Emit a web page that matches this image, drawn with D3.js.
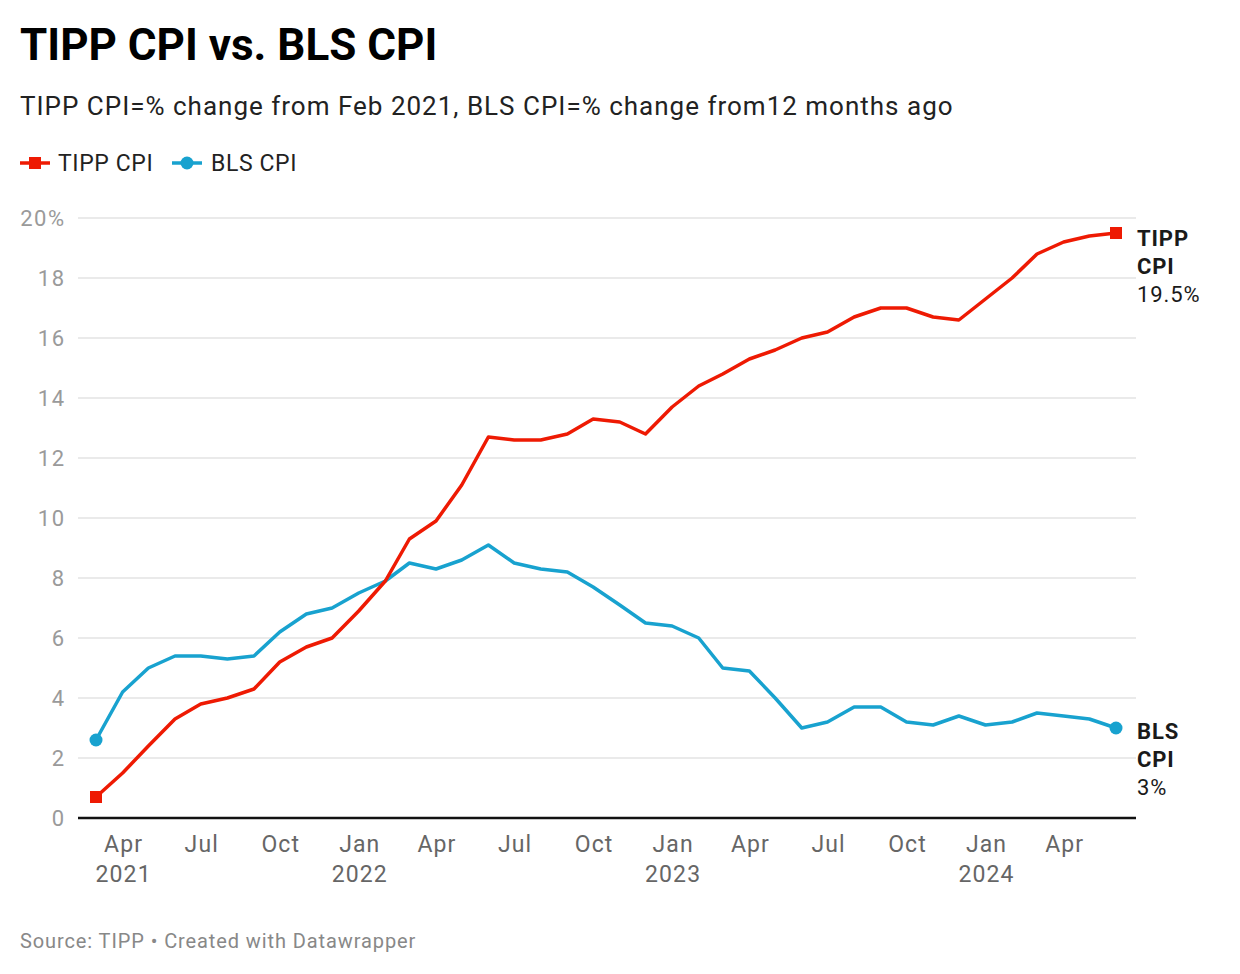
<!DOCTYPE html>
<html>
<head>
<meta charset="utf-8">
<script src="https://cdn.jsdelivr.net/npm/d3@7"></script>
<style>
  html, body { margin: 0; padding: 0; background: #fff; }
  svg { display: block; font-family: Roboto, "Noto Sans", sans-serif; }
</style>
</head>
<body>
<svg id="chart" width="1240" height="974"></svg>
<script>
// ---- data ----
const months = [
  "2021-03","2021-04","2021-05","2021-06","2021-07","2021-08","2021-09","2021-10","2021-11","2021-12",
  "2022-01","2022-02","2022-03","2022-04","2022-05","2022-06","2022-07","2022-08","2022-09","2022-10","2022-11","2022-12",
  "2023-01","2023-02","2023-03","2023-04","2023-05","2023-06","2023-07","2023-08","2023-09","2023-10","2023-11","2023-12",
  "2024-01","2024-02","2024-03","2024-04","2024-05","2024-06"
];
const tippCPI = [
  0.7, 1.5, 2.4, 3.3, 3.8, 4.0, 4.3, 5.2, 5.7, 6.0,
  6.9, 7.9, 9.3, 9.9, 11.1, 12.7, 12.6, 12.6, 12.8, 13.3, 13.2, 12.8,
  13.7, 14.4, 14.8, 15.3, 15.6, 16.0, 16.2, 16.7, 17.0, 17.0, 16.7, 16.6,
  17.3, 18.0, 18.8, 19.2, 19.4, 19.5
];
const blsCPI = [
  2.6, 4.2, 5.0, 5.4, 5.4, 5.3, 5.4, 6.2, 6.8, 7.0,
  7.5, 7.9, 8.5, 8.3, 8.6, 9.1, 8.5, 8.3, 8.2, 7.7, 7.1, 6.5,
  6.4, 6.0, 5.0, 4.9, 4.0, 3.0, 3.2, 3.7, 3.7, 3.2, 3.1, 3.4,
  3.1, 3.2, 3.5, 3.4, 3.3, 3.0
];
const yTicks = [0, 2, 4, 6, 8, 10, 12, 14, 16, 18, 20];
const xTickMonths = ["2021-04","2021-07","2021-10","2022-01","2022-04","2022-07","2022-10","2023-01","2023-04","2023-07","2023-10","2024-01","2024-04"];
const seriesNames = ["TIPP CPI", "BLS CPI"];
const endLabels = [["TIPP", "CPI", "19.5%"], ["BLS", "CPI", "3%"]];

// ---- setup ----
const RED = "#ee1a03", BLUE = "#18a2cf";
const parse = d3.timeParse("%Y-%m");
const dates = months.map(parse);
const svg = d3.select("#chart");

const x = d3.scaleTime().domain([dates[0], dates[dates.length - 1]]).range([96, 1116]);
const y = d3.scaleLinear().domain([0, 20]).range([818, 218]);
const gridLeft = 78, gridRight = 1136;

// title etc
svg.append("text").attr("x", 20).attr("y", 60)
  .attr("font-size", 44).attr("font-weight", 700).attr("fill", "#000")
  .text("TIPP CPI vs. BLS CPI");
svg.append("text").attr("x", 20).attr("y", 115)
  .attr("font-size", 26).attr("letter-spacing", 1).attr("fill", "#222")
  .text("TIPP CPI=% change from Feb 2021, BLS CPI=% change from12 months ago");

// legend
const leg = svg.append("g");
leg.append("line").attr("x1", 20).attr("x2", 50).attr("y1", 163).attr("y2", 163).attr("stroke", RED).attr("stroke-width", 3.5);
leg.append("rect").attr("x", 29).attr("y", 157).attr("width", 12).attr("height", 12).attr("fill", RED);
leg.append("text").attr("x", 58).attr("y", 171).attr("font-size", 23).attr("letter-spacing", 0.6).attr("fill", "#222").text(seriesNames[0]);
leg.append("line").attr("x1", 172).attr("x2", 202).attr("y1", 163).attr("y2", 163).attr("stroke", BLUE).attr("stroke-width", 3.5);
leg.append("circle").attr("cx", 187).attr("cy", 163).attr("r", 6.5).attr("fill", BLUE);
leg.append("text").attr("x", 211).attr("y", 171).attr("font-size", 23).attr("letter-spacing", 0.6).attr("fill", "#222").text(seriesNames[1]);

// gridlines
const grid = svg.append("g");
grid.selectAll("line").data(yTicks.filter(d => d !== 0)).join("line")
  .attr("x1", gridLeft).attr("x2", gridRight)
  .attr("y1", d => y(d)).attr("y2", d => y(d))
  .attr("stroke", "#e3e3e3").attr("stroke-width", 1.5);

// y axis labels
const yLS = 1.5;
const yAxis = d3.axisLeft(y).tickValues(yTicks).tickSize(0).tickPadding(0)
  .tickFormat(d => d === 20 ? "20%" : String(d));
const gy = svg.append("g").attr("transform", `translate(${64 + yLS},0)`).call(yAxis);
gy.select(".domain").remove();
gy.selectAll("text").attr("font-size", 22).attr("letter-spacing", yLS).attr("fill", "#9a9a9a")
  .attr("font-family", "Roboto, sans-serif").attr("dy", "0.35em");

// baseline
svg.append("line").attr("x1", gridLeft).attr("x2", gridRight)
  .attr("y1", y(0)).attr("y2", y(0)).attr("stroke", "#111").attr("stroke-width", 2.5);

// x axis
const xTickDates = xTickMonths.map(parse);
const xAxis = d3.axisBottom(x).tickValues(xTickDates).tickSize(0).tickPadding(0)
  .tickFormat(() => "");
const gx = svg.append("g").attr("transform", `translate(0,${y(0)})`).call(xAxis);
gx.select(".domain").remove();
gx.selectAll(".tick text").each(function(d, i) {
  const t = d3.select(this);
  t.attr("font-size", 23).attr("letter-spacing", 1.1).attr("fill", "#666").attr("font-family", "Roboto, sans-serif")
   .attr("y", 0).attr("dy", 0);
  t.append("tspan").attr("x", 0.5).attr("y", 34).text(d3.timeFormat("%b")(d));
  if (i === 0 || d.getMonth() === 0) {
    t.append("tspan").attr("x", 0.5).attr("y", 64).text(d3.timeFormat("%Y")(d));
  }
});

// lines
const line = d3.line().x((d, i) => x(dates[i])).y(d => y(d));
svg.append("path").datum(blsCPI).attr("d", line).attr("fill", "none")
  .attr("stroke", BLUE).attr("stroke-width", 3.5).attr("stroke-linejoin", "round");
svg.append("path").datum(tippCPI).attr("d", line).attr("fill", "none")
  .attr("stroke", RED).attr("stroke-width", 3.5).attr("stroke-linejoin", "round");

// end markers
const last = dates.length - 1;
[0, last].forEach(i => {
  svg.append("circle").attr("cx", x(dates[i])).attr("cy", y(blsCPI[i])).attr("r", 6.5).attr("fill", BLUE);
  svg.append("rect").attr("x", x(dates[i]) - 6).attr("y", y(tippCPI[i]) - 6)
    .attr("width", 12).attr("height", 12).attr("fill", RED);
});

// end labels
function endLabel(lines, yTop) {
  const g = svg.append("text").attr("x", 1137).attr("font-size", 22).attr("letter-spacing", 0.9).attr("fill", "#1a1a1a");
  lines.forEach((s, k) => {
    g.append("tspan").attr("x", 1137).attr("y", yTop + k * 28)
      .attr("font-weight", k < 2 ? 700 : 400).text(s);
  });
}
endLabel(endLabels[0], y(tippCPI[last]) + 13);
endLabel(endLabels[1], y(blsCPI[last]) + 11);

// source
svg.append("text").attr("x", 20).attr("y", 948).attr("font-size", 20).attr("letter-spacing", 0.9).attr("fill", "#888")
  .text("Source: TIPP • Created with Datawrapper");
</script>
</body>
</html>
